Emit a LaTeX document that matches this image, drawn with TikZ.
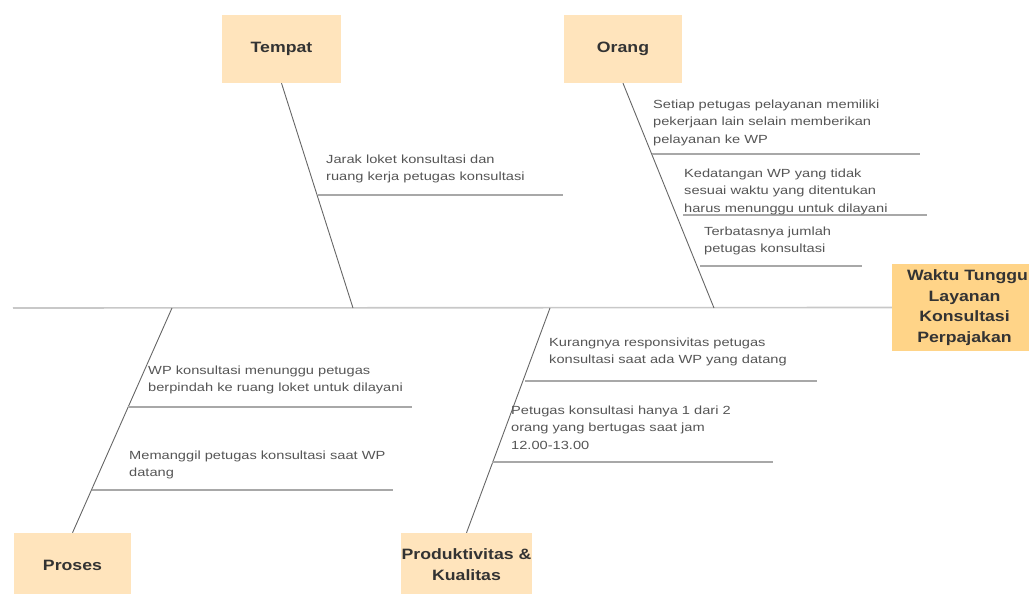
\documentclass[tikz,border=0pt]{standalone}
\usepackage{fontspec}
\setmainfont{Liberation Sans}
\newfontfamily\causefont[FakeStretch=1.24]{Liberation Sans}
\newfontfamily\catfont[FakeStretch=1.18]{Liberation Sans}
\begin{document}
\begin{tikzpicture}[x=1pt,y=-1pt,
  cat/.style={fill=catfill,draw=none,minimum width=#1,inner sep=0pt,font=\catfont\fontsize{15}{21}\selectfont\bfseries,text=titletext,align=center},
  effect/.style={fill=effectfill,draw=none,inner sep=0pt,font=\catfont\fontsize{15}{20.5}\selectfont\bfseries,text=titletext,align=center},
  bone/.style={draw=bonecol,line width=0.9pt},
  spine/.style={draw=spinecol,line width=1.6pt},
  sub/.style={draw=subcol,line width=1.3pt},
  cause/.style={anchor=north west,inner sep=0pt,align=left,text=causetext,font=\causefont\fontsize{11.8}{17.5}\selectfont}
]
\definecolor{catfill}{HTML}{FFE4BC}
\definecolor{effectfill}{HTML}{FFD488}
\definecolor{titletext}{HTML}{333333}
\definecolor{causetext}{HTML}{555555}
\definecolor{bonecol}{HTML}{666666}
\definecolor{spinecol}{HTML}{C8C8C8}
\definecolor{subcol}{HTML}{A8A8A8}
\useasboundingbox (0,0) rectangle (1029,594);
% category boxes
\node[cat=119pt,minimum height=68pt] (tempat) at (281.5,49) {Tempat};
\node[cat=118pt,minimum height=68pt] (orang) at (623,49) {Orang};
\node[cat=117pt,minimum height=64pt] (proses) at (72.5,565) {Proses};
\node[cat=131pt,minimum height=64pt] (prod) at (466.5,565) {Produktivitas \&\\Kualitas};
\node[effect,minimum width=145pt,minimum height=87pt,text width=145pt] (effect) at (964.5,307.5) {\hspace*{6pt}Waktu Tunggu\\Layanan\\Konsultasi\\Perpajakan};
% spine
\coordinate (spL) at (13,308);
\draw[spine] (spL) -- (effect.west);
% bones
\coordinate (tS) at (353,308);
\coordinate (oS) at (714,308);
\coordinate (pS) at (172,308);
\coordinate (kS) at (550,308);
\draw[bone] (tempat.south) -- (tS);
\draw[bone] (orang.south) -- (oS);
\draw[bone] (pS) -- (proses.north);
\draw[bone] (kS) -- (prod.north);
% sub-lines
\coordinate (t1a) at (318,195); \coordinate (t1b) at (563,195);
\coordinate (o1a) at (652,154); \coordinate (o1b) at (920,154);
\coordinate (o2a) at (683,215); \coordinate (o2b) at (927,215);
\coordinate (o3a) at (700,266); \coordinate (o3b) at (862,266);
\coordinate (p1a) at (128,407); \coordinate (p1b) at (412,407);
\coordinate (p2a) at (92,490); \coordinate (p2b) at (393,490);
\coordinate (k1a) at (525,381); \coordinate (k1b) at (817,381);
\coordinate (k2a) at (492,462); \coordinate (k2b) at (773,462);
\foreach \a/\b in {t1a/t1b,o1a/o1b,o2a/o2b,o3a/o3b,p1a/p1b,p2a/p2b,k1a/k1b,k2a/k2b}
  \draw[sub] (\a) -- (\b);
% cause texts
\node[cause] (t1) at (326,154.5) {Jarak loket konsultasi dan\\ruang kerja petugas konsultasi};
\node[cause] (o1) at (653,99.5) {Setiap petugas pelayanan memiliki\\pekerjaan lain selain memberikan\\pelayanan ke WP};
\node[cause] (o2) at (684,168.5) {Kedatangan WP yang tidak\\sesuai waktu yang ditentukan\\harus menunggu untuk dilayani};
\node[cause] (o3) at (704,226.5) {Terbatasnya jumlah\\petugas konsultasi};
\node[cause] (p1) at (148,365.5) {WP konsultasi menunggu petugas\\berpindah ke ruang loket untuk dilayani};
\node[cause] (p2) at (129,450.5) {Memanggil petugas konsultasi saat WP\\datang};
\node[cause] (k1) at (549,337.5) {Kurangnya responsivitas petugas\\konsultasi saat ada WP yang datang};
\node[cause] (k2) at (511,405.5) {Petugas konsultasi hanya 1 dari 2\\orang yang bertugas saat jam\\12.00-13.00};
\end{tikzpicture}
\end{document}
